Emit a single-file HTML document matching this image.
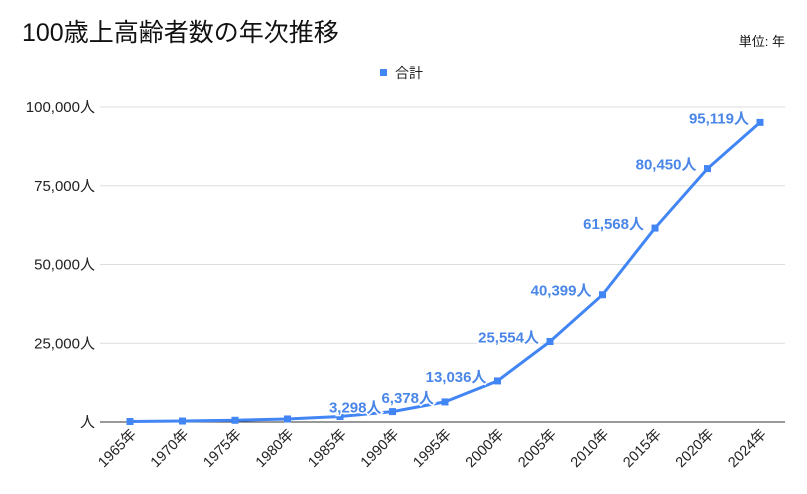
<!DOCTYPE html>
<html><head><meta charset="utf-8"><style>
body{margin:0;background:#fff;font-family:"Liberation Sans","Noto Sans CJK JP",sans-serif;}
</style></head><body>
<svg id="c" width="807" height="494" style="display:block">
<text x="22" y="41" font-size="25" fill="#111">100歳上高齢者数の年次推移</text>
<text x="785" y="46" font-size="13" text-anchor="end" fill="#111">単位: 年</text>
<g><rect x="380" y="69" width="7" height="7" fill="#4285f4"/><text x="395" y="78" font-size="14" fill="#222">合計</text></g>
<g id="grid"></g><g id="plot"></g>
</svg>
<script>
const categories=["1965年","1970年","1975年","1980年","1985年","1990年","1995年","2000年","2005年","2010年","2015年","2020年","2024年"];
const values=[153,310,548,968,1740,3298,6378,13036,25554,40399,61568,80450,95119];
const showLabel=[false,false,false,false,false,true,true,true,true,true,true,true,true];
const yTicks=[0,25000,50000,75000,100000];
const yTickLabels=["人","25,000人","50,000人","75,000人","100,000人"];
const NS="http://www.w3.org/2000/svg";
const x0=130,x1=760,y0=422,y1=107;
const xs=i=>x0+(x1-x0)*i/(categories.length-1);
const ys=v=>y0-(y0-y1)*v/100000;
function mk(t,a,p){const e=document.createElementNS(NS,t);for(const k in a)e.setAttribute(k,a[k]);p.appendChild(e);return e;}
const g=document.getElementById('grid'),p=document.getElementById('plot');
yTicks.forEach((v,i)=>{
 const l=mk('line',{x1:100,x2:785,y1:ys(v),y2:ys(v),stroke:i==0?'#333':'#ddd','stroke-width':1},g);
 
 
 const t=mk('text',{x:95,y:ys(v)+5,'font-size':15,'text-anchor':'end',fill:'#222'},g);
 t.textContent=yTickLabels[i];
 
 
});
categories.forEach((c,i)=>{
 const t=mk('text',{x:0,y:0,'font-size':14.5,'text-anchor':'end',fill:'#222',transform:`translate(${xs(i)+7},${y0+13}) rotate(-45)`},g);
 t.textContent=c;
 
 
});
const line=mk('polyline',{points:values.map((v,i)=>xs(i)+','+ys(v)).join(' '),fill:'none',stroke:'#4285f4','stroke-width':3,'stroke-linejoin':'round'},p);


values.forEach((v,i)=>{
 const r=mk('rect',{x:xs(i)-3.5,y:ys(v)-3.5,width:7,height:7,fill:'#4285f4'},p);
 
 
 if(showLabel[i]){
  const t=mk('text',{x:xs(i)-11,y:ys(v)+1,'font-size':15,'font-weight':'bold','text-anchor':'end',fill:'#4a86e8',stroke:'#fff','stroke-width':3,'paint-order':'stroke'},p);
  t.textContent=v.toLocaleString('en-US')+'人';
  
  
 }
});
</script>
</body></html>
